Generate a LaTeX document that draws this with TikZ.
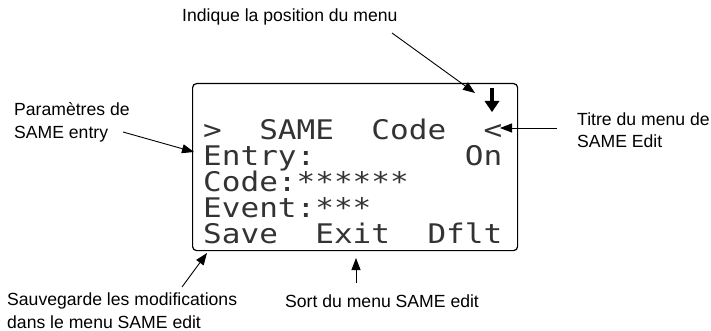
\documentclass[tikz,border=0pt]{standalone}
\usepackage{fontspec}
\setmainfont{Liberation Sans}
\newfontfamily\lcdfont[FakeStretch=1.15]{DejaVu Sans Mono}
\usetikzlibrary{arrows.meta}
\begin{document}
\begin{tikzpicture}[x=1pt,y=-1pt,
  lbl/.style={font=\fontsize{17.6}{22.5}\selectfont, inner sep=0pt, align=left, anchor=west},
  lcd/.style={font=\fontsize{27}{27}\selectfont\lcdfont, inner sep=0pt, anchor=base west, text=black!80},
  callout/.style={line width=0.9pt, -{Triangle[length=12pt,width=9pt]}},
]
\useasboundingbox (0,0) rectangle (711,331);
% screen
\node[draw, rounded corners=4pt, line width=1.2pt, minimum width=325pt, minimum height=167pt,
      anchor=north west, inner sep=0pt] (screen) at (192,83) {};
% LCD lines
\node[lcd] (l1) at (203,140) {>\ \ SAME\ \ Code\ \ <};
\node[lcd] (l2) at (203,165) {Entry:\ \ \ \ \ \ \ \ On};
\node[lcd] (l3) at (203,191) {Code:******};
\node[lcd] (l4) at (203,217) {Event:***};
\node[lcd] (l5) at (203,243) {Save\ \ Exit\ \ Dflt};
% position indicator
\draw[line width=4.5pt] (492,88) -- (492,103);
\fill (484.5,101) -- (499.5,101) -- (492,112) -- cycle;
% labels
\node[lbl] (pos) at (182,17) {Indique la position du menu};
\node[lbl] (param) at (14,122.5) {Paramètres de\\SAME entry};
\node[lbl] (titre) at (577,130) {Titre du menu de\\SAME Edit};
\node[lbl] (sauve) at (7,310.5) {Sauvegarde les modifications\\dans le menu SAME edit};
\node[lbl] (sort) at (285,301) {Sort du menu SAME edit};
% arrow ends
\coordinate (posS) at (392,33);   \coordinate (posT) at (475,93);
\coordinate (parS) at (123,132);  \coordinate (parT) at (194,152);
\coordinate (titS) at (557,128);  \coordinate (titT) at (500,128);
\coordinate (sauS) at (182,287);  \coordinate (sauT) at (207,253);
\coordinate (sorS) at (356,283);  \coordinate (sorT) at (356,258);
\draw[callout] (posS) -- (posT);
\draw[callout] (parS) -- (parT);
\draw[callout] (titS) -- (titT);
\draw[callout] (sauS) -- (sauT);
\draw[callout] (sorS) -- (sorT);
\end{tikzpicture}
\end{document}
